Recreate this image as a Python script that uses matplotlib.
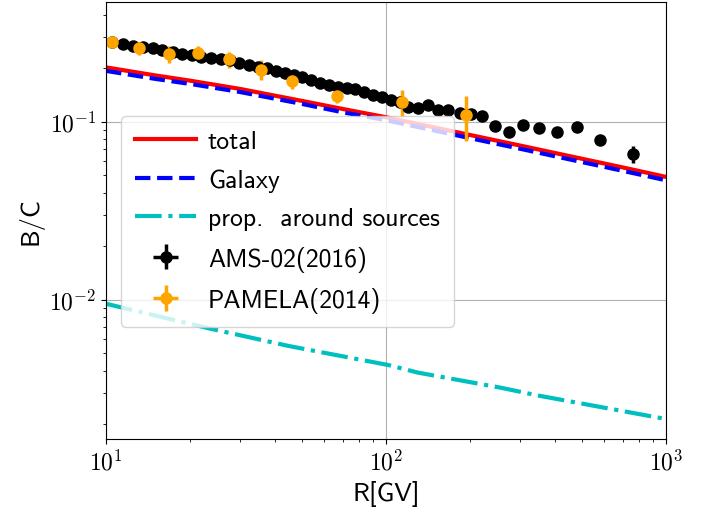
import matplotlib.pyplot as plt
from matplotlib.ticker import FuncFormatter
import numpy as np

plt.rcParams['font.family'] = 'cmss10'
plt.rcParams['mathtext.fontset'] = 'cm'
plt.rcParams['axes.unicode_minus'] = False

# model curves
R_model = [10, 15, 20, 30, 50, 70, 100, 150, 200, 300, 500, 700, 1000]
bc_total = [0.202, 0.182, 0.170, 0.153, 0.131, 0.118, 0.106, 0.0927, 0.0842, 0.0736, 0.0620, 0.0554, 0.049]
bc_galaxy = [0.193, 0.174, 0.163, 0.147, 0.126, 0.113, 0.102, 0.089, 0.0808, 0.0706, 0.0594, 0.053, 0.0469]

R_src = [10, 23.4, 45, 102, 130, 259, 349, 1000]
bc_src = [0.0095, 0.0069, 0.0055, 0.0043, 0.0039, 0.0032, 0.0029, 0.00214]

# AMS-02 (2016)
R_ams = [10.5, 11.5, 12.5, 13.5, 14.7, 15.9, 17.3, 18.7, 20.3, 21.9, 23.7, 25.7, 27.7, 29.9,
         32.3, 34.8, 37.5, 40.4, 43.5, 46.8, 50.3, 54.1, 58.2, 62.5, 67.2, 72.3, 77.7, 83.4,
         89.7, 96.4, 104, 112, 120, 130, 141, 153, 167, 183, 201, 221, 245, 274, 309, 353,
         409, 481, 583, 762]
bc_ams = [0.279, 0.273, 0.267, 0.262, 0.258, 0.253, 0.246, 0.240, 0.236, 0.232, 0.228, 0.226,
          0.222, 0.214, 0.209, 0.204, 0.200, 0.193, 0.189, 0.184, 0.178, 0.171, 0.166, 0.161,
          0.157, 0.154, 0.152, 0.146, 0.141, 0.137, 0.132, 0.129, 0.121, 0.120, 0.124, 0.116,
          0.116, 0.112, 0.111, 0.108, 0.095, 0.0872, 0.0958, 0.0918, 0.0879, 0.0930, 0.0789,
          0.0659]
err_ams = [0.003] * 40 + [0.003, 0.003, 0.003, 0.003, 0.004, 0.004, 0.005, 0.007]

# PAMELA (2014)
R_pam = [10.5, 13.15, 16.8, 21.35, 27.6, 35.7, 46.1, 66.8, 113.8, 192.6]
bc_pam = [0.279, 0.259, 0.240, 0.243, 0.224, 0.196, 0.169, 0.139, 0.129, 0.109]
err_pam = [0.018, 0.023, 0.025, 0.025, 0.023, 0.025, 0.017, 0.011, 0.0225, 0.031]

fig = plt.figure(figsize=(7.07, 5.1), dpi=100)
ax = fig.add_axes([0.150, 0.137, 0.792, 0.857])

ax.plot(R_model, bc_total, color='r', lw=3, label='total')
ax.plot(R_model, bc_galaxy, color='b', lw=3, ls='--', label='Galaxy')
ax.plot(R_src, bc_src, color='c', lw=3, ls='-.', label='prop.  around sources')
ax.errorbar(R_ams, bc_ams, yerr=err_ams, xerr=[0] * len(R_ams), fmt='o', color='k',
            ms=8, elinewidth=2.5, label='AMS-02(2016)')
ax.errorbar(R_pam, bc_pam, yerr=err_pam, xerr=[0] * len(R_pam), fmt='o', color='orange',
            ms=8, elinewidth=2.5, label='PAMELA(2014)')

ax.set_xscale('log')
ax.set_yscale('log')
ax.set_xlim(10, 1000)
ax.set_ylim(0.00165, 0.47)
ax.grid(True, which='major')

fmt = FuncFormatter(lambda v, p: r'$10^{%d}$' % int(round(np.log10(v))))
ax.xaxis.set_major_formatter(fmt)
ax.yaxis.set_major_formatter(fmt)
ax.tick_params(axis='both', which='major', labelsize=17)

ax.set_xlabel('R[GV]', fontsize=19)
ax.set_ylabel('B/C', fontsize=19)

ax.legend(loc='upper left', bbox_to_anchor=(0.026, 0.740), borderaxespad=0,
          fontsize=18.5, handlelength=2.4, labelspacing=0.6, borderpad=0.55,
          handletextpad=0.45)

plt.savefig('out.png', dpi=100)
